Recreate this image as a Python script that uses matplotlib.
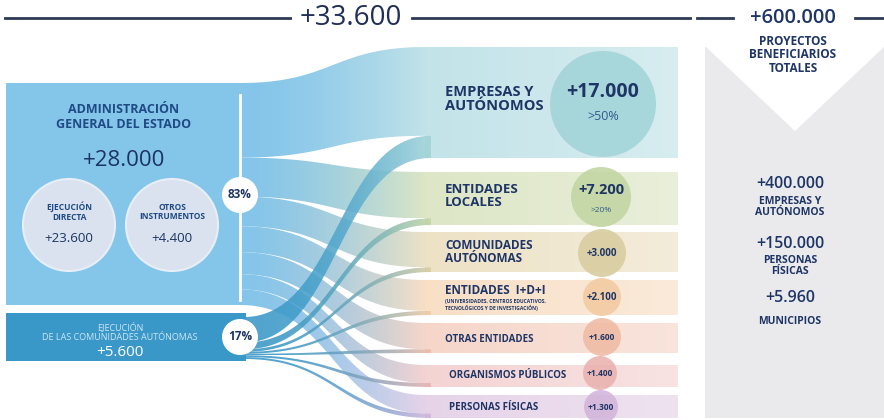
import numpy as np
import matplotlib.pyplot as plt
from matplotlib.patches import Polygon, Rectangle, Circle
from matplotlib.colors import to_rgb

plt.rcParams['font.family'] = ['Open Sans', 'DejaVu Sans']

total_projects = 33600
total_beneficiaries = 600000

source_names = ["ADMINISTRACIÓN\nGENERAL DEL ESTADO", "EJECUCIÓN\nDE LAS COMUNIDADES AUTÓNOMAS"]
source_values = [28000, 5600]
source_pct = ["83%", "17%"]

age_part_names = ["EJECUCIÓN\nDIRECTA", "OTROS\nINSTRUMENTOS"]
age_part_values = [23600, 4400]

target_names = ["EMPRESAS Y\nAUTÓNOMOS", "ENTIDADES\nLOCALES", "COMUNIDADES\nAUTÓNOMAS",
                "ENTIDADES  I+D+I", "OTRAS ENTIDADES", "ORGANISMOS PÚBLICOS", "PERSONAS FÍSICAS"]
target_values = [17000, 7200, 3000, 2100, 1600, 1400, 1300]
target_share = [">50%", ">20%", "", "", "", "", ""]

# split of each target between the two sources (estimated from ribbon widths)
age_flows = [13600, 6300, 2650, 1850, 1400, 1150, 1050]
ccaa_flows = [3400, 900, 350, 250, 200, 250, 250]

benef_values = [400000, 150000, 5960]
benef_names = ["EMPRESAS Y\nAUTÓNOMOS", "PERSONAS\nFÍSICAS", "MUNICIPIOS"]

# ---- layout / style ----
band_colors = ['#c2e3e8', '#dde6c6', '#ede2c6', '#f8dfc6', '#f6d6c9', '#f4d3d3', '#e6d3e8']
circ_colors = ['#a3d5d9', '#c3d6a4', '#d8cda0', '#f3cba2', '#f0bca6', '#eab3b0', '#d3b6db']
band_top = [47, 172, 232, 280, 323, 365, 395]
band_bot = [158, 225, 272, 315, 353, 387, 418]
circ_x = [603, 601, 602, 602, 602, 600, 601]
circ_y = [104, 197, 253, 297, 337, 373, 407]
circ_r = [53, 30, 24, 19, 19, 17, 17]
lab_x = [445, 445, 445, 445, 445, 449, 449]
lab_y = [99, 196, 252, 291, 339, 376, 408]
lab_size = [10.5, 9.5, 8.5, 8.5, 7, 7, 7]
num_size = [14, 10.5, 7, 7, 6, 6, 6]

NAVY = '#1e3566'
AGE_C = '#84c5ea'
CCAA_C = '#3a98c8'
X_SRC, X_TGT, X_END = 240, 425, 678


def fmt(v):
    return "+" + f"{v:,}".replace(",", ".")


def lighten(c, f):
    c = np.array(to_rgb(c))
    return tuple(c + (1 - c) * f)


def bez_edge(x0, y0, x1, y1, n=90):
    t = np.linspace(0, 1, n)
    xm = (x0 + x1) / 2
    x = (1-t)**3*x0 + 3*(1-t)**2*t*xm + 3*(1-t)*t**2*xm + t**3*x1
    y = (1-t)**3*y0 + 3*(1-t)**2*t*y0 + 3*(1-t)*t**2*y1 + t**3*y1
    return np.column_stack([x, y])


def grad_fill(ax, verts, x0, x1, c0, c1, alpha=1.0, z=1, power=1.0):
    poly = Polygon(verts, closed=True, fc='none', ec='none', zorder=z)
    ax.add_patch(poly)
    g = np.linspace(0, 1, 256) ** power
    a = np.array(to_rgb(c0)); b = np.array(to_rgb(c1))
    img = (a[None, :] * (1 - g)[:, None] + b[None, :] * g[:, None])[None, :, :]
    ys = verts[:, 1]
    im = ax.imshow(img, extent=[x0, x1, ys.max(), ys.min()], aspect='auto',
                   alpha=alpha, zorder=z, interpolation='bilinear')
    im.set_clip_path(poly)


def ribbon(ax, x0, a0, b0, x1, a1, b1, c0, c1, alpha=1.0, z=1, power=1.0):
    top = bez_edge(x0, a0, x1, a1)
    bot = bez_edge(x0, b0, x1, b1)
    verts = np.vstack([top, bot[::-1]])
    grad_fill(ax, verts, x0, x1, c0, c1, alpha, z, power)


fig = plt.figure(figsize=(8.84, 4.2), dpi=100)
ax = fig.add_axes([0, 0, 1, 1])
ax.axis('off')

# ---- target bands ----
for i in range(len(target_values)):
    verts = np.array([[X_TGT, band_top[i]], [X_END, band_top[i]],
                      [X_END, band_bot[i]], [X_TGT, band_bot[i]]])
    grad_fill(ax, verts, X_TGT, X_END, band_colors[i], lighten(band_colors[i], 0.35), z=1)

# ---- ribbons from AGE ----
h = np.array(band_bot) - np.array(band_top)
age_w = h * np.array(age_flows) / np.array(target_values)
ccaa_w = h * np.array(ccaa_flows) / np.array(target_values)
src_w = age_w * (305 - 83) / age_w.sum()
y = 83.0
for i in range(len(age_flows)):
    ribbon(ax, X_SRC, y, y + src_w[i], X_TGT + 1, band_top[i], band_top[i] + age_w[i],
           AGE_C, band_colors[i], z=1, power=1.5)
    y += src_w[i]

# ---- ribbons from CCAA (drawn on top) ----
cc_src = np.array(ccaa_flows) / sum(ccaa_flows) * 42
y = 317.0
for i in range(len(ccaa_flows)):
    ribbon(ax, 244, y, y + cc_src[i], X_TGT + 6, band_bot[i] - ccaa_w[i], band_bot[i],
           CCAA_C, circ_colors[i], alpha=0.88, z=2, power=2.0)
    y += cc_src[i]

# ---- source boxes ----
ax.add_patch(Rectangle((6, 83), X_SRC - 6, 305 - 83, fc=AGE_C, ec='none', zorder=3))
ax.add_patch(Rectangle((6, 313), 246 - 6, 361 - 313, fc=CCAA_C, ec='none', zorder=3))
ax.plot([X_SRC, X_SRC], [95, 300], color='white', lw=2, zorder=4)

ax.text(124, 117, source_names[0], ha='center', va='center', fontsize=9,
        fontweight='bold', color='#1f4a85', linespacing=1.2, zorder=5)
ax.text(124, 160, fmt(source_values[0]), ha='center', va='center', fontsize=16,
        fontweight='medium', color='#1c3461', zorder=5)
for cx, name, v in zip([69, 172], age_part_names, age_part_values):
    ax.add_patch(Circle((cx, 225), 46, fc='#d9e2ee', ec='#e8eef6', lw=1.5, zorder=4))
    ax.text(cx, 212, name, ha='center', va='center', fontsize=6, fontweight='bold',
            color='#1f4a85', linespacing=1.1, zorder=5)
    ax.text(cx, 238, fmt(v), ha='center', va='center', fontsize=9.5,
            fontweight='medium', color='#1c3461', zorder=5)

ax.text(120, 332, source_names[1], ha='center', va='center', fontsize=6.5,
        color='#cde6f7', linespacing=1.1, zorder=5)
ax.text(120, 352, fmt(source_values[1]), ha='center', va='center', fontsize=11,
        color='white', zorder=5)

for cy, pct in zip([195, 337], source_pct):
    ax.add_patch(Circle((X_SRC, cy), 18, fc='white', ec='none', zorder=6))
    ax.text(X_SRC, cy, pct, ha='center', va='center', fontsize=8.5, fontweight='bold',
            color=NAVY, zorder=7)

# ---- target circles & labels ----
for i in range(len(target_values)):
    ax.add_patch(Circle((circ_x[i], circ_y[i]), circ_r[i], fc=circ_colors[i],
                        ec='none', alpha=0.9, zorder=4))
    dy = -12 if i == 0 else (-7 if i == 1 else 0)
    ax.text(circ_x[i], circ_y[i] + dy, fmt(target_values[i]), ha='center', va='center',
            fontsize=num_size[i], fontweight='bold', color=NAVY, zorder=5)
    if target_share[i]:
        ax.text(circ_x[i], circ_y[i] + 13, target_share[i],
                ha='center', va='center', fontsize=9 if i == 0 else 6,
                color='#2f5a8c', zorder=5)
    ax.text(lab_x[i], lab_y[i], target_names[i], ha='left', va='center',
            fontsize=lab_size[i], fontweight='bold', color=NAVY, linespacing=1.05, zorder=5)
ax.text(445, 305, "(UNIVERSIDADES, CENTROS EDUCATIVOS,\nTECNOLÓGICOS Y DE INVESTIGACIÓN)",
        ha='left', va='center', fontsize=3.6, fontweight='bold', color=NAVY,
        linespacing=1.1, zorder=5)

# ---- header line ----
ax.plot([5, 290], [18, 18], color='#2d3a55', lw=2, zorder=5)
ax.plot([412, 690], [18, 18], color='#2d3a55', lw=2, zorder=5)
ax.text(351, 18, fmt(total_projects), ha='center', va='center', fontsize=20,
        fontweight='medium', color='#1f2f5a', zorder=5)

# ---- right panel ----
ax.add_patch(Rectangle((705, 47), 884 - 705, 418 - 47, fc='#eaeaec', ec='none', zorder=1))
ax.add_patch(Polygon([[705, 46], [885, 46], [795, 131]], closed=True, fc='white',
                     ec='none', zorder=2))
ax.plot([697, 733], [18, 18], color='#2d3a55', lw=2, zorder=5)
ax.plot([855, 884], [18, 18], color='#2d3a55', lw=2, zorder=5)
ax.text(793, 18, fmt(total_beneficiaries), ha='center', va='center', fontsize=14.5,
        fontweight='semibold', color=NAVY, zorder=5)
ax.text(793, 55, "PROYECTOS\nBENEFICIARIOS\nTOTALES", ha='center', va='center',
        fontsize=8.5, fontweight='bold', color=NAVY, linespacing=1.05, zorder=5)
for v, name, yv, yn in zip(benef_values, benef_names, [184, 244, 298], [207, 266, 321]):
    ax.text(790, yv, fmt(v), ha='center', va='center', fontsize=11.5,
            fontweight='semibold', color=NAVY, zorder=5)
    ax.text(790, yn, name, ha='center', va='center', fontsize=7.5, fontweight='bold',
            color=NAVY, linespacing=1.0, zorder=5)

ax.set_xlim(0, 884)
ax.set_ylim(420, 0)
fig.savefig('out.png', dpi=100)
